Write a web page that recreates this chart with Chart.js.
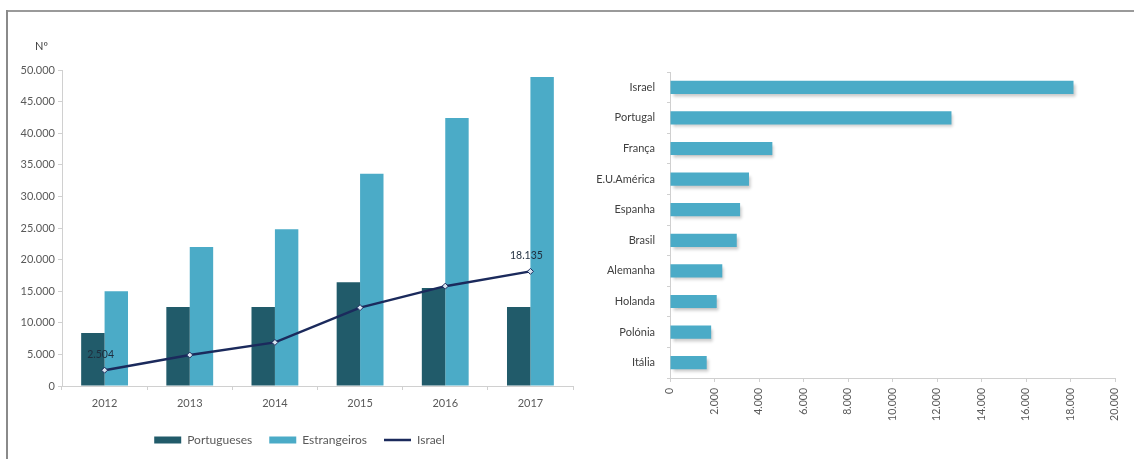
<!DOCTYPE html>
<html>
<head>
<meta charset="utf-8">
<script src="https://cdn.jsdelivr.net/npm/chart.js@4"></script>
<style>
  html, body { margin: 0; padding: 0; background: #fff; overflow: hidden; }
  body { width: 1134px; height: 459px; position: relative; }
  .rule-h { position: absolute; left: 6px; top: 10px; width: 1128px; height: 2px; background: #9a9a9a; }
  .rule-v { position: absolute; left: 6px; top: 10px; width: 2px; height: 449px; background: #8a8a8a; }
  #evo { position: absolute; left: 0; top: 0; }
  #origem { position: absolute; left: 590px; top: 0; }
</style>
</head>
<body>
<div class="rule-h"></div>
<div class="rule-v"></div>
<canvas id="evo" width="600" height="459"></canvas>
<canvas id="origem" width="544" height="459"></canvas>
<script>
// ── Data ──────────────────────────────────
const years = ['2012', '2013', '2014', '2015', '2016', '2017'];
const portugueses = [8400, 12500, 12500, 16400, 15500, 12500];
const estrangeiros = [15000, 22000, 24800, 33600, 42400, 48900];
const israel = [2504, 4900, 6900, 12400, 15800, 18135];
const israelLabelled = [0, 5];

const countries = ['Israel', 'Portugal', 'França', 'E.U.América', 'Espanha', 'Brasil', 'Alemanha', 'Holanda', 'Polónia', 'Itália'];
const countryValues = [18135, 12650, 4600, 3550, 3150, 3000, 2350, 2100, 1850, 1650];

// ── Helpers ───────────────────────────────
const fmt = v => String(Math.round(v)).replace(/\B(?=(\d{3})+(?!\d))/g, '.');
const FONT = 'Lato, "Open Sans", sans-serif';
const TXT = '#595959';
const AXIS = '#d0d0d0';

const C_PORT = '#215b6a';
const C_ESTR = '#4babc7';
const C_ISR = '#1b2a5c';

Chart.defaults.font.family = FONT;
Chart.defaults.font.size = 11;
Chart.defaults.color = TXT;

// "Nº" heading and Israel value labels
const evoExtras = {
  id: 'evoExtras',
  afterLayout(chart) {
    // centre the legend under the whole panel, not just the plot box
    chart.legend.left += 13;
    chart.legend.right += 13;
  },
  afterDatasetsDraw(chart) {
    const ctx = chart.ctx;
    const meta = chart.getDatasetMeta(2);
    ctx.save();
    ctx.font = '10.5px ' + FONT;
    ctx.fillStyle = '#1f2d3d';
    ctx.textAlign = 'center';
    ctx.textBaseline = 'middle';
    israelLabelled.forEach(i => {
      const pt = meta.data[i];
      ctx.fillText(fmt(israel[i]), pt.x - 4, pt.y - 16);
    });
    ctx.font = '11px ' + FONT;
    ctx.fillStyle = '#404040';
    ctx.textAlign = 'left';
    ctx.fillText('Nº', 35, 46);
    ctx.restore();
  }
};

// soft drop shadow under the horizontal bars
const barShadow = {
  id: 'barShadow',
  beforeDatasetsDraw(chart) {
    const ctx = chart.ctx;
    ctx.save();
    ctx.shadowColor = 'rgba(0,0,0,0.22)';
    ctx.shadowBlur = 3;
    ctx.shadowOffsetX = 2;
    ctx.shadowOffsetY = 3;
  },
  afterDatasetsDraw(chart) { chart.ctx.restore(); }
};

// ── Evolution chart (left) ────────────────
new Chart(document.getElementById('evo'), {
  type: 'bar',
  data: {
    labels: years,
    datasets: [
      { label: 'Portugueses', data: portugueses, backgroundColor: C_PORT, order: 1,
        categoryPercentage: 0.55, barPercentage: 1 },
      { label: 'Estrangeiros', data: estrangeiros, backgroundColor: C_ESTR, order: 1,
        categoryPercentage: 0.55, barPercentage: 1 },
      { label: 'Israel', data: israel, type: 'line', order: 0,
        borderColor: C_ISR, borderWidth: 2.5, tension: 0,
        pointStyle: 'rectRot', pointRadius: 3, pointBackgroundColor: '#d6e4f0',
        pointBorderColor: C_ISR, pointBorderWidth: 1 }
    ]
  },
  options: {
    responsive: false,
    animation: false,
    layout: { padding: { top: 70, right: 27, bottom: 3, left: 0 } },
    plugins: {
      tooltip: { enabled: false },
      legend: {
        position: 'bottom',
        labels: {
          usePointStyle: true,
          pointStyleWidth: 27,
          boxHeight: 7,
          padding: 17,
          color: TXT,
          font: { size: 12 },
          generateLabels: (chart) => chart.data.datasets.map((ds, i) => ({
            text: ds.label,
            datasetIndex: i,
            fillStyle: ds.type === 'line' ? C_ISR : ds.backgroundColor,
            strokeStyle: ds.type === 'line' ? C_ISR : ds.backgroundColor,
            lineWidth: ds.type === 'line' ? 2.5 : 0,
            pointStyle: ds.type === 'line' ? 'line' : 'rect',
            fontColor: TXT
          }))
        }
      }
    },
    scales: {
      x: {
        grid: { drawOnChartArea: false, drawTicks: true, tickLength: 4, color: AXIS },
        border: { color: AXIS },
        ticks: { padding: 7, color: TXT },
        afterFit: s => { s.height = 31; }
      },
      y: {
        min: 0, max: 50000,
        grid: { drawOnChartArea: false, drawTicks: true, tickLength: 4, color: AXIS },
        border: { color: AXIS },
        ticks: { stepSize: 5000, padding: 3, color: TXT, callback: v => fmt(v) },
        afterFit: s => { s.width = 62; }
      }
    }
  },
  plugins: [evoExtras]
});

// ── Origin ranking (right) ────────────────
new Chart(document.getElementById('origem'), {
  type: 'bar',
  data: {
    labels: countries,
    datasets: [{ label: 'Israel', data: countryValues, backgroundColor: C_ESTR,
                 categoryPercentage: 1, barPercentage: 0.43 }]
  },
  options: {
    indexAxis: 'y',
    responsive: false,
    animation: false,
    layout: { padding: { top: 72, right: 19, bottom: 0, left: 0 } },
    plugins: { legend: { display: false }, tooltip: { enabled: false } },
    scales: {
      x: {
        min: 0, max: 20000,
        grid: { drawOnChartArea: false, drawTicks: true, tickLength: 4, color: AXIS },
        border: { color: AXIS },
        ticks: { stepSize: 2000, minRotation: 90, maxRotation: 90, padding: 6,
                 color: TXT, font: { size: 10.5 }, callback: v => fmt(v) },
        afterFit: s => { s.height = 81; }
      },
      y: {
        grid: { drawOnChartArea: false, drawTicks: true, tickLength: 3, color: AXIS },
        border: { color: AXIS },
        ticks: { padding: 12, color: '#404040', font: { size: 11 } },
        afterFit: s => { s.width = 80; }
      }
    }
  },
  plugins: [barShadow]
});
</script>
</body>
</html>
